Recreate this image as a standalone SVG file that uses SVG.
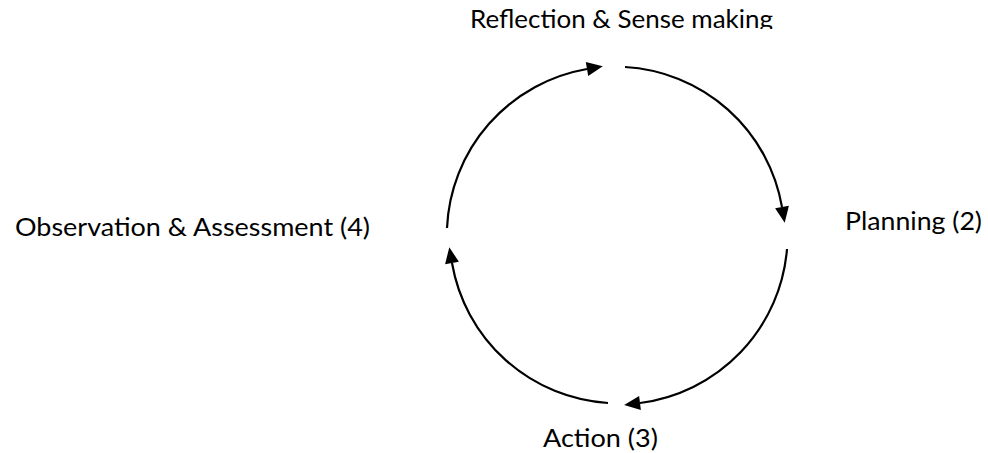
<svg xmlns="http://www.w3.org/2000/svg" width="988" height="453" viewBox="0 0 988 453">
<style>
.lbl{font-family:Lato,"Open Sans","Liberation Sans",sans-serif;font-size:25px;fill:#000}
.arc{fill:none;stroke:#000;stroke-width:2.2;marker-end:url(#ah)}
</style>
<defs>
<marker id="ah" markerUnits="userSpaceOnUse" markerWidth="17" markerHeight="14" refX="0" refY="7" orient="auto" overflow="visible">
<path d="M0,0 L16,7 L0,14 Z" fill="#000"/>
</marker>
<clipPath id="topclip"><rect x="0" y="0" width="988" height="29"/></clipPath>
</defs>
<rect width="988" height="453" fill="#fff"/>
<g id="connectors">
<path class="arc" d="M625,67 A169,169 0 0,1 782,207"/>
<path class="arc" d="M787,249 A169,169 0 0,1 640,403"/>
<path class="arc" d="M608,403 A169,169 0 0,1 452,263"/>
<path class="arc" d="M447,228 A169,169 0 0,1 587,69"/>
</g>
<g id="reflection">
<text class="lbl" x="470" y="28" textLength="303" lengthAdjust="spacingAndGlyphs" clip-path="url(#topclip)">Reflection &amp; Sense making</text>
</g>
<g id="planning">
<text class="lbl" x="845" y="230" textLength="137" lengthAdjust="spacingAndGlyphs">Planning (2)</text>
</g>
<g id="action">
<text class="lbl" x="543" y="447" textLength="115" lengthAdjust="spacingAndGlyphs">Action (3)</text>
</g>
<g id="observation">
<text class="lbl" x="15" y="236" textLength="355" lengthAdjust="spacingAndGlyphs">Observation &amp; Assessment (4)</text>
</g>
</svg>
